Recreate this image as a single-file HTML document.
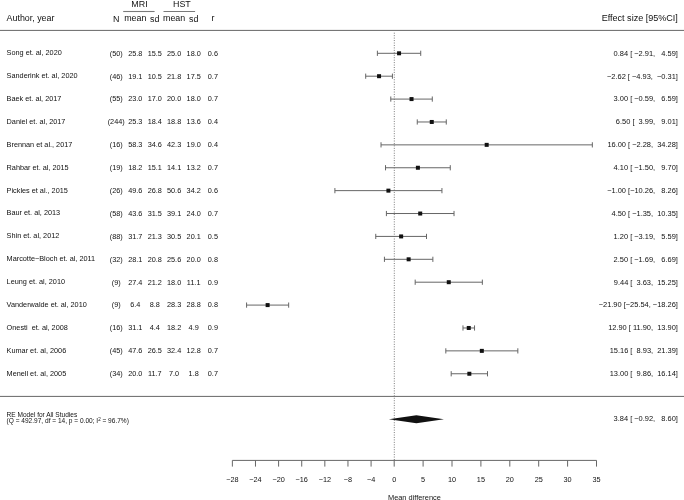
<!DOCTYPE html><html><head><meta charset="utf-8"><style>html,body{margin:0;padding:0;background:#fff;}svg{display:block;will-change:transform;}text{font-family:"Liberation Sans",sans-serif;fill:#111;}</style></head><body>
<svg width="684" height="500" viewBox="0 0 684 500">
<g font-size="8.9">
<text x="6.6" y="20.9">Author, year</text>
<text x="116.2" y="21.6" text-anchor="middle">N</text>
<text x="135.3" y="21.1" text-anchor="middle">mean</text>
<text x="154.8" y="21.85" text-anchor="middle">sd</text>
<text x="174.1" y="21.1" text-anchor="middle">mean</text>
<text x="193.7" y="21.75" text-anchor="middle">sd</text>
<text x="212.9" y="21.3" text-anchor="middle">r</text>
<text x="139.5" y="6.6" text-anchor="middle">MRI</text>
<text x="181.9" y="6.6" text-anchor="middle">HST</text>
<text x="677.9" y="20.9" font-size="9.05" text-anchor="end">Effect size [95%CI]</text>
</g>
<line x1="123.2" y1="11.5" x2="154.6" y2="11.5" stroke="#7a7a7a" stroke-width="1.1"/>
<line x1="163.5" y1="11.5" x2="195.1" y2="11.5" stroke="#7a7a7a" stroke-width="1.1"/>
<line x1="0" y1="30.4" x2="684" y2="30.4" stroke="#666" stroke-width="1"/>
<line x1="0" y1="396.4" x2="684" y2="396.4" stroke="#666" stroke-width="1"/>
<line x1="394.30" y1="32.7" x2="394.30" y2="460" stroke="#7a7a7a" stroke-width="1" stroke-dasharray="1 1.45"/>
<g font-size="7.3">
<text x="6.6" y="55.20" xml:space="preserve">Song et. al, 2020</text>
<text x="116.2" y="55.65" text-anchor="middle">(50)</text>
<text x="135.3" y="55.65" text-anchor="middle">25.8</text>
<text x="154.8" y="55.65" text-anchor="middle">15.5</text>
<text x="174.1" y="55.65" text-anchor="middle">25.0</text>
<text x="193.7" y="55.65" text-anchor="middle">18.0</text>
<text x="212.9" y="55.65" text-anchor="middle">0.6</text>
<text x="677.9" y="55.65" font-size="7.45" text-anchor="end" xml:space="preserve">  0.84 [ −2.91,   4.59]</text>
<text x="6.6" y="78.09" xml:space="preserve">Sanderink et. al, 2020</text>
<text x="116.2" y="78.54" text-anchor="middle">(46)</text>
<text x="135.3" y="78.54" text-anchor="middle">19.1</text>
<text x="154.8" y="78.54" text-anchor="middle">10.5</text>
<text x="174.1" y="78.54" text-anchor="middle">21.8</text>
<text x="193.7" y="78.54" text-anchor="middle">17.5</text>
<text x="212.9" y="78.54" text-anchor="middle">0.7</text>
<text x="677.9" y="78.54" font-size="7.45" text-anchor="end" xml:space="preserve"> −2.62 [ −4.93,  −0.31]</text>
<text x="6.6" y="100.98" xml:space="preserve">Baek et. al, 2017</text>
<text x="116.2" y="101.43" text-anchor="middle">(55)</text>
<text x="135.3" y="101.43" text-anchor="middle">23.0</text>
<text x="154.8" y="101.43" text-anchor="middle">17.0</text>
<text x="174.1" y="101.43" text-anchor="middle">20.0</text>
<text x="193.7" y="101.43" text-anchor="middle">18.0</text>
<text x="212.9" y="101.43" text-anchor="middle">0.7</text>
<text x="677.9" y="101.43" font-size="7.45" text-anchor="end" xml:space="preserve">  3.00 [ −0.59,   6.59]</text>
<text x="6.6" y="123.87" xml:space="preserve">Daniel et. al, 2017</text>
<text x="116.2" y="124.32" text-anchor="middle">(244)</text>
<text x="135.3" y="124.32" text-anchor="middle">25.3</text>
<text x="154.8" y="124.32" text-anchor="middle">18.4</text>
<text x="174.1" y="124.32" text-anchor="middle">18.8</text>
<text x="193.7" y="124.32" text-anchor="middle">13.6</text>
<text x="212.9" y="124.32" text-anchor="middle">0.4</text>
<text x="677.9" y="124.32" font-size="7.45" text-anchor="end" xml:space="preserve">  6.50 [  3.99,   9.01]</text>
<text x="6.6" y="146.76" xml:space="preserve">Brennan et al., 2017</text>
<text x="116.2" y="147.21" text-anchor="middle">(16)</text>
<text x="135.3" y="147.21" text-anchor="middle">58.3</text>
<text x="154.8" y="147.21" text-anchor="middle">34.6</text>
<text x="174.1" y="147.21" text-anchor="middle">42.3</text>
<text x="193.7" y="147.21" text-anchor="middle">19.0</text>
<text x="212.9" y="147.21" text-anchor="middle">0.4</text>
<text x="677.9" y="147.21" font-size="7.45" text-anchor="end" xml:space="preserve"> 16.00 [ −2.28,  34.28]</text>
<text x="6.6" y="169.65" xml:space="preserve">Rahbar et. al, 2015</text>
<text x="116.2" y="170.10" text-anchor="middle">(19)</text>
<text x="135.3" y="170.10" text-anchor="middle">18.2</text>
<text x="154.8" y="170.10" text-anchor="middle">15.1</text>
<text x="174.1" y="170.10" text-anchor="middle">14.1</text>
<text x="193.7" y="170.10" text-anchor="middle">13.2</text>
<text x="212.9" y="170.10" text-anchor="middle">0.7</text>
<text x="677.9" y="170.10" font-size="7.45" text-anchor="end" xml:space="preserve">  4.10 [ −1.50,   9.70]</text>
<text x="6.6" y="192.54" xml:space="preserve">Pickles et al., 2015</text>
<text x="116.2" y="192.99" text-anchor="middle">(26)</text>
<text x="135.3" y="192.99" text-anchor="middle">49.6</text>
<text x="154.8" y="192.99" text-anchor="middle">26.8</text>
<text x="174.1" y="192.99" text-anchor="middle">50.6</text>
<text x="193.7" y="192.99" text-anchor="middle">34.2</text>
<text x="212.9" y="192.99" text-anchor="middle">0.6</text>
<text x="677.9" y="192.99" font-size="7.45" text-anchor="end" xml:space="preserve"> −1.00 [−10.26,   8.26]</text>
<text x="6.6" y="215.43" xml:space="preserve">Baur et. al, 2013</text>
<text x="116.2" y="215.88" text-anchor="middle">(58)</text>
<text x="135.3" y="215.88" text-anchor="middle">43.6</text>
<text x="154.8" y="215.88" text-anchor="middle">31.5</text>
<text x="174.1" y="215.88" text-anchor="middle">39.1</text>
<text x="193.7" y="215.88" text-anchor="middle">24.0</text>
<text x="212.9" y="215.88" text-anchor="middle">0.7</text>
<text x="677.9" y="215.88" font-size="7.45" text-anchor="end" xml:space="preserve">  4.50 [ −1.35,  10.35]</text>
<text x="6.6" y="238.32" xml:space="preserve">Shin et. al, 2012</text>
<text x="116.2" y="238.77" text-anchor="middle">(88)</text>
<text x="135.3" y="238.77" text-anchor="middle">31.7</text>
<text x="154.8" y="238.77" text-anchor="middle">21.3</text>
<text x="174.1" y="238.77" text-anchor="middle">30.5</text>
<text x="193.7" y="238.77" text-anchor="middle">20.1</text>
<text x="212.9" y="238.77" text-anchor="middle">0.5</text>
<text x="677.9" y="238.77" font-size="7.45" text-anchor="end" xml:space="preserve">  1.20 [ −3.19,   5.59]</text>
<text x="6.6" y="261.21" xml:space="preserve">Marcotte−Bloch et. al, 2011</text>
<text x="116.2" y="261.66" text-anchor="middle">(32)</text>
<text x="135.3" y="261.66" text-anchor="middle">28.1</text>
<text x="154.8" y="261.66" text-anchor="middle">20.8</text>
<text x="174.1" y="261.66" text-anchor="middle">25.6</text>
<text x="193.7" y="261.66" text-anchor="middle">20.0</text>
<text x="212.9" y="261.66" text-anchor="middle">0.8</text>
<text x="677.9" y="261.66" font-size="7.45" text-anchor="end" xml:space="preserve">  2.50 [ −1.69,   6.69]</text>
<text x="6.6" y="284.10" xml:space="preserve">Leung et. al, 2010</text>
<text x="116.2" y="284.55" text-anchor="middle">(9)</text>
<text x="135.3" y="284.55" text-anchor="middle">27.4</text>
<text x="154.8" y="284.55" text-anchor="middle">21.2</text>
<text x="174.1" y="284.55" text-anchor="middle">18.0</text>
<text x="193.7" y="284.55" text-anchor="middle">11.1</text>
<text x="212.9" y="284.55" text-anchor="middle">0.9</text>
<text x="677.9" y="284.55" font-size="7.45" text-anchor="end" xml:space="preserve">  9.44 [  3.63,  15.25]</text>
<text x="6.6" y="306.99" xml:space="preserve">Vanderwalde et. al, 2010</text>
<text x="116.2" y="307.44" text-anchor="middle">(9)</text>
<text x="135.3" y="307.44" text-anchor="middle">6.4</text>
<text x="154.8" y="307.44" text-anchor="middle">8.8</text>
<text x="174.1" y="307.44" text-anchor="middle">28.3</text>
<text x="193.7" y="307.44" text-anchor="middle">28.8</text>
<text x="212.9" y="307.44" text-anchor="middle">0.8</text>
<text x="677.9" y="307.44" font-size="7.45" text-anchor="end" xml:space="preserve">−21.90 [−25.54, −18.26]</text>
<text x="6.6" y="329.88" xml:space="preserve">Onesti  et. al, 2008</text>
<text x="116.2" y="330.33" text-anchor="middle">(16)</text>
<text x="135.3" y="330.33" text-anchor="middle">31.1</text>
<text x="154.8" y="330.33" text-anchor="middle">4.4</text>
<text x="174.1" y="330.33" text-anchor="middle">18.2</text>
<text x="193.7" y="330.33" text-anchor="middle">4.9</text>
<text x="212.9" y="330.33" text-anchor="middle">0.9</text>
<text x="677.9" y="330.33" font-size="7.45" text-anchor="end" xml:space="preserve"> 12.90 [ 11.90,  13.90]</text>
<text x="6.6" y="352.77" xml:space="preserve">Kumar et. al, 2006</text>
<text x="116.2" y="353.22" text-anchor="middle">(45)</text>
<text x="135.3" y="353.22" text-anchor="middle">47.6</text>
<text x="154.8" y="353.22" text-anchor="middle">26.5</text>
<text x="174.1" y="353.22" text-anchor="middle">32.4</text>
<text x="193.7" y="353.22" text-anchor="middle">12.8</text>
<text x="212.9" y="353.22" text-anchor="middle">0.7</text>
<text x="677.9" y="353.22" font-size="7.45" text-anchor="end" xml:space="preserve"> 15.16 [  8.93,  21.39]</text>
<text x="6.6" y="375.66" xml:space="preserve">Menell et. al, 2005</text>
<text x="116.2" y="376.11" text-anchor="middle">(34)</text>
<text x="135.3" y="376.11" text-anchor="middle">20.0</text>
<text x="154.8" y="376.11" text-anchor="middle">11.7</text>
<text x="174.1" y="376.11" text-anchor="middle">7.0</text>
<text x="193.7" y="376.11" text-anchor="middle">1.8</text>
<text x="212.9" y="376.11" text-anchor="middle">0.7</text>
<text x="677.9" y="376.11" font-size="7.45" text-anchor="end" xml:space="preserve"> 13.00 [  9.86,  16.14]</text>
</g>
<path d="M377.38 53.30H420.73M377.38 50.70V55.90M420.73 50.70V55.90" stroke="#666" stroke-width="1" fill="none"/>
<rect x="397.06" y="51.30" width="4.0" height="4.0" fill="#111"/>
<path d="M365.70 76.19H392.41M365.70 73.59V78.79M392.41 73.59V78.79" stroke="#666" stroke-width="1" fill="none"/>
<rect x="377.06" y="74.19" width="4.0" height="4.0" fill="#111"/>
<path d="M390.79 99.08H432.29M390.79 96.48V101.68M432.29 96.48V101.68" stroke="#666" stroke-width="1" fill="none"/>
<rect x="409.54" y="97.08" width="4.0" height="4.0" fill="#111"/>
<path d="M417.26 121.97H446.28M417.26 119.37V124.57M446.28 119.37V124.57" stroke="#666" stroke-width="1" fill="none"/>
<rect x="429.77" y="119.97" width="4.0" height="4.0" fill="#111"/>
<path d="M381.02 144.86H592.34M381.02 142.26V147.46M592.34 142.26V147.46" stroke="#666" stroke-width="1" fill="none"/>
<rect x="484.68" y="142.86" width="4.0" height="4.0" fill="#111"/>
<path d="M385.53 167.75H450.27M385.53 165.15V170.35M450.27 165.15V170.35" stroke="#666" stroke-width="1" fill="none"/>
<rect x="415.90" y="165.75" width="4.0" height="4.0" fill="#111"/>
<path d="M334.90 190.64H441.94M334.90 188.04V193.24M441.94 188.04V193.24" stroke="#666" stroke-width="1" fill="none"/>
<rect x="386.42" y="188.64" width="4.0" height="4.0" fill="#111"/>
<path d="M386.40 213.53H454.02M386.40 210.93V216.13M454.02 210.93V216.13" stroke="#666" stroke-width="1" fill="none"/>
<rect x="418.21" y="211.53" width="4.0" height="4.0" fill="#111"/>
<path d="M375.76 236.42H426.51M375.76 233.82V239.02M426.51 233.82V239.02" stroke="#666" stroke-width="1" fill="none"/>
<rect x="399.14" y="234.42" width="4.0" height="4.0" fill="#111"/>
<path d="M384.43 259.31H432.87M384.43 256.71V261.91M432.87 256.71V261.91" stroke="#666" stroke-width="1" fill="none"/>
<rect x="406.65" y="257.31" width="4.0" height="4.0" fill="#111"/>
<path d="M415.18 282.20H482.35M415.18 279.60V284.80M482.35 279.60V284.80" stroke="#666" stroke-width="1" fill="none"/>
<rect x="446.76" y="280.20" width="4.0" height="4.0" fill="#111"/>
<path d="M246.58 305.09H288.66M246.58 302.49V307.69M288.66 302.49V307.69" stroke="#666" stroke-width="1" fill="none"/>
<rect x="265.62" y="303.09" width="4.0" height="4.0" fill="#111"/>
<path d="M462.98 327.98H474.54M462.98 325.38V330.58M474.54 325.38V330.58" stroke="#666" stroke-width="1" fill="none"/>
<rect x="466.76" y="325.98" width="4.0" height="4.0" fill="#111"/>
<path d="M445.82 350.87H517.83M445.82 348.27V353.47M517.83 348.27V353.47" stroke="#666" stroke-width="1" fill="none"/>
<rect x="479.82" y="348.87" width="4.0" height="4.0" fill="#111"/>
<path d="M451.19 373.76H487.49M451.19 371.16V376.36M487.49 371.16V376.36" stroke="#666" stroke-width="1" fill="none"/>
<rect x="467.34" y="371.76" width="4.0" height="4.0" fill="#111"/>
<g font-size="6.55"><text x="6.6" y="416.6">RE Model for All Studies</text><text x="6.6" y="423.3">(Q = 492.97, df = 14, p = 0.00; I<tspan font-size="4.5" dy="-2.5">2</tspan><tspan dy="2.5"> = 96.7%)</tspan></text></g>
<polygon points="388.88,419.3 416.40,415.3 443.91,419.3 416.40,423.3" fill="#111"/>
<text x="677.9" y="421.10" font-size="7.45" text-anchor="end" xml:space="preserve">  3.84 [ −0.92,   8.60]</text>
<line x1="232.35999999999999" y1="460.4" x2="596.5" y2="460.4" stroke="#666" stroke-width="1"/>
<g font-size="7.3">
<line x1="232.36" y1="460.4" x2="232.36" y2="466.59999999999997" stroke="#666" stroke-width="1"/>
<text x="232.36" y="481.8" text-anchor="middle">−28</text>
<line x1="255.48" y1="460.4" x2="255.48" y2="466.59999999999997" stroke="#666" stroke-width="1"/>
<text x="255.48" y="481.8" text-anchor="middle">−24</text>
<line x1="278.60" y1="460.4" x2="278.60" y2="466.59999999999997" stroke="#666" stroke-width="1"/>
<text x="278.60" y="481.8" text-anchor="middle">−20</text>
<line x1="301.72" y1="460.4" x2="301.72" y2="466.59999999999997" stroke="#666" stroke-width="1"/>
<text x="301.72" y="481.8" text-anchor="middle">−16</text>
<line x1="324.84" y1="460.4" x2="324.84" y2="466.59999999999997" stroke="#666" stroke-width="1"/>
<text x="324.84" y="481.8" text-anchor="middle">−12</text>
<line x1="347.96" y1="460.4" x2="347.96" y2="466.59999999999997" stroke="#666" stroke-width="1"/>
<text x="347.96" y="481.8" text-anchor="middle">−8</text>
<line x1="371.08" y1="460.4" x2="371.08" y2="466.59999999999997" stroke="#666" stroke-width="1"/>
<text x="371.08" y="481.8" text-anchor="middle">−4</text>
<line x1="394.20" y1="460.4" x2="394.20" y2="466.59999999999997" stroke="#666" stroke-width="1"/>
<text x="394.20" y="481.8" text-anchor="middle">0</text>
<line x1="423.10" y1="460.4" x2="423.10" y2="466.59999999999997" stroke="#666" stroke-width="1"/>
<text x="423.10" y="481.8" text-anchor="middle">5</text>
<line x1="452.00" y1="460.4" x2="452.00" y2="466.59999999999997" stroke="#666" stroke-width="1"/>
<text x="452.00" y="481.8" text-anchor="middle">10</text>
<line x1="480.90" y1="460.4" x2="480.90" y2="466.59999999999997" stroke="#666" stroke-width="1"/>
<text x="480.90" y="481.8" text-anchor="middle">15</text>
<line x1="509.80" y1="460.4" x2="509.80" y2="466.59999999999997" stroke="#666" stroke-width="1"/>
<text x="509.80" y="481.8" text-anchor="middle">20</text>
<line x1="538.70" y1="460.4" x2="538.70" y2="466.59999999999997" stroke="#666" stroke-width="1"/>
<text x="538.70" y="481.8" text-anchor="middle">25</text>
<line x1="567.60" y1="460.4" x2="567.60" y2="466.59999999999997" stroke="#666" stroke-width="1"/>
<text x="567.60" y="481.8" text-anchor="middle">30</text>
<line x1="596.50" y1="460.4" x2="596.50" y2="466.59999999999997" stroke="#666" stroke-width="1"/>
<text x="596.50" y="481.8" text-anchor="middle">35</text>
</g>
<text x="414.43" y="499.6" font-size="7.4" text-anchor="middle">Mean difference</text>
</svg></body></html>
